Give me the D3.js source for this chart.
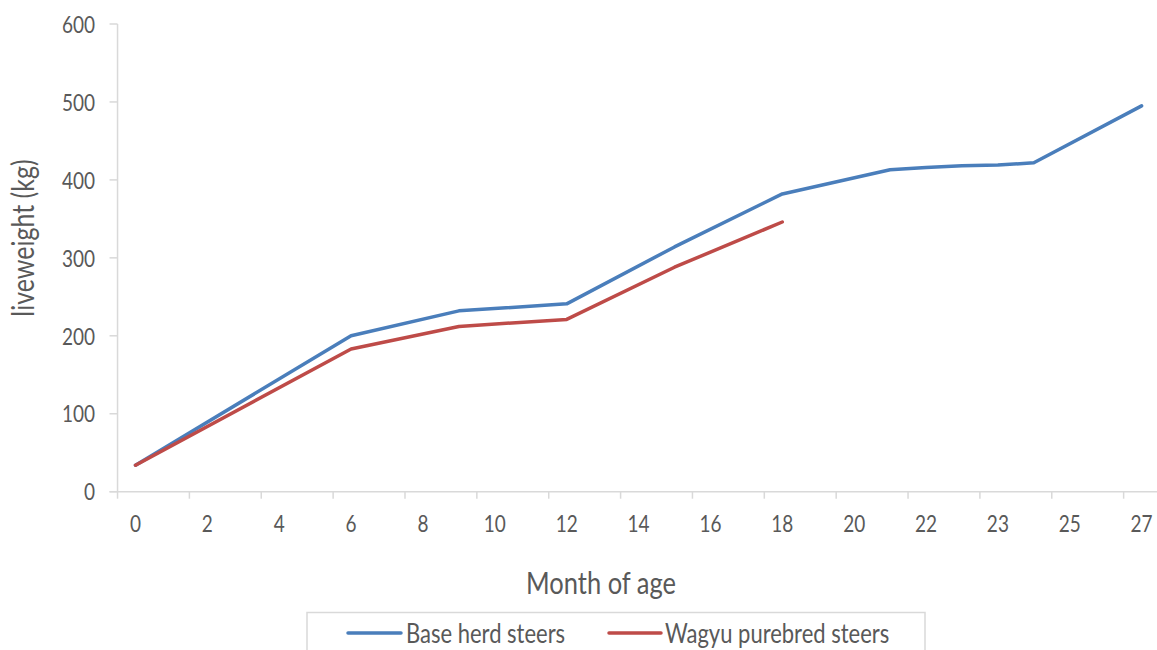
<!DOCTYPE html>
<html>
<head>
<meta charset="utf-8">
<script src="https://cdn.jsdelivr.net/npm/d3@7"></script>
<style>
  html, body { margin: 0; padding: 0; background: #fff; }
  svg { display: block; }
  text { font-family: Lato, "Open Sans", sans-serif; fill: #595959; }
</style>
</head>
<body>
<svg id="chart" width="1157" height="650"></svg>
<script>
// ---- data ----
const tickLabels = ["0","2","4","6","8","10","12","14","16","18","20","22","23","25","27"];
const baseMonths = [0, 6, 9, 12, 15, 18, 21, 22, 23, 24, 25, 28];
const baseHerd   = [34, 200, 232, 241, 314, 382, 413, 416, 418, 419, 422, 495];
const wagyuMonths = [0, 6, 9, 12, 15, 18];
const wagyu       = [34, 183, 212, 221, 288, 346];
const yTicks = [0, 100, 200, 300, 400, 500, 600];
const seriesNames = ["Base herd steers", "Wagyu purebred steers"];
const seriesColors = ["#4a7ebb", "#be4b48"];

// ---- layout ----
const W = 1157, H = 650;
const svg = d3.select("#chart");
const SY = 1.22; // vertical text stretch of the reference
const axisColor = "#d9d9d9";

const x = d3.scaleLinear().domain([0, 28]).range([135.5, 1141.6]);
const y = d3.scaleLinear().domain([0, 600]).range([491.7, 24]);

function stretchedText(g, tx, ty, str, size, anchor, rotate) {
  const t = g.append("g")
    .attr("transform", `translate(${tx},${ty})` + (rotate ? ` rotate(${rotate})` : "") + ` scale(1,${SY})`);
  t.append("text")
    .attr("x", 0).attr("y", 0)
    .attr("dominant-baseline", "central")
    .attr("text-anchor", anchor)
    .style("font-size", size + "px")
    .text(str);
  return t;
}

// y axis
const yAxisX = x(-0.5);
svg.append("line")
  .attr("x1", yAxisX).attr("x2", yAxisX)
  .attr("y1", y(600)).attr("y2", y(0))
  .attr("stroke", axisColor).attr("stroke-width", 1.5);
const yg = svg.append("g");
yTicks.forEach(v => {
  yg.append("line")
    .attr("x1", yAxisX - 8).attr("x2", yAxisX)
    .attr("y1", y(v)).attr("y2", y(v))
    .attr("stroke", axisColor).attr("stroke-width", 1.5);
  stretchedText(yg, 95, y(v), String(v), 19, "end");
});

// x axis
svg.append("line")
  .attr("x1", yAxisX - 8).attr("x2", W)
  .attr("y1", y(0)).attr("y2", y(0))
  .attr("stroke", axisColor).attr("stroke-width", 1.5);
const xg = svg.append("g");
tickLabels.forEach((lab, i) => {
  const m = 2 * i;
  xg.append("line")
    .attr("x1", x(m - 0.5)).attr("x2", x(m - 0.5))
    .attr("y1", y(0)).attr("y2", y(0) + 7)
    .attr("stroke", axisColor).attr("stroke-width", 1.5);
  stretchedText(xg, x(m), 523, lab, 19, "middle");
});

// axis titles
stretchedText(svg, 601, 582, "Month of age", 25.5, "middle");
{
  const t = svg.append("g").attr("transform", `translate(22,238) scale(${SY},1) rotate(-90)`);
  t.append("text").attr("dominant-baseline", "central").attr("text-anchor", "middle")
    .style("font-size", "25px").text("liveweight (kg)");
}

// lines
const line = d3.line().x(d => x(d[0])).y(d => y(d[1]));
const series = [
  d3.zip(baseMonths, baseHerd),
  d3.zip(wagyuMonths, wagyu)
];
series.forEach((s, i) => {
  svg.append("path").datum(s)
    .attr("d", line).attr("fill", "none")
    .attr("stroke", seriesColors[i]).attr("stroke-width", 3.5)
    .attr("stroke-linejoin", "round").attr("stroke-linecap", "round");
});

// legend
const lg = svg.append("g");
lg.append("rect").attr("x", 307).attr("y", 612.5).attr("width", 618).attr("height", 60)
  .attr("fill", "none").attr("stroke", axisColor).attr("stroke-width", 1.5);
const legendItems = [
  { x0: 348, x1: 401, tx: 406 },
  { x0: 609, x1: 661, tx: 665 }
];
legendItems.forEach((it, i) => {
  lg.append("line").attr("x1", it.x0).attr("x2", it.x1).attr("y1", 633).attr("y2", 633)
    .attr("stroke", seriesColors[i]).attr("stroke-width", 3.5).attr("stroke-linecap", "round");
  stretchedText(lg, it.tx, 633, seriesNames[i], 22, "start");
});
</script>
</body>
</html>
